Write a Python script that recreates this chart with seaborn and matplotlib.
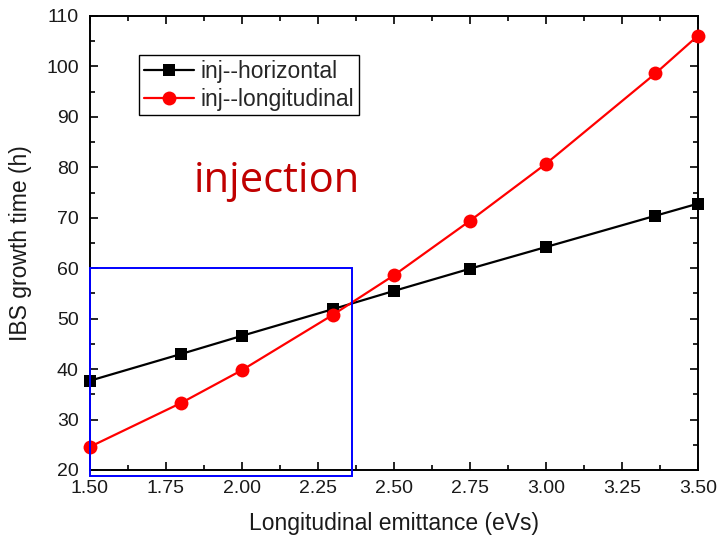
import matplotlib
matplotlib.use("Agg")
import matplotlib.pyplot as plt
from matplotlib.patches import Rectangle
from matplotlib.ticker import MultipleLocator, FormatStrFormatter
import seaborn as sns
import pandas as pd

emittance = [1.5, 1.8, 2.0, 2.3, 2.5, 2.75, 3.0, 3.36, 3.5]
inj_horizontal = [37.7, 43.0, 46.6, 51.9, 55.5, 59.9, 64.2, 70.4, 72.8]
inj_longitudinal = [24.6, 33.3, 39.8, 50.8, 58.6, 69.4, 80.7, 98.6, 106.1]
series_names = ["inj--horizontal", "inj--longitudinal"]

sns.set_style("ticks")
plt.rcParams['font.family'] = ['Liberation Sans', 'DejaVu Sans']

fig = plt.figure(figsize=(7.18, 5.38), dpi=100)
ax = fig.add_axes([0.1253, 0.1264, 0.8468, 0.8439])

df_h = pd.DataFrame({"x": emittance, "y": inj_horizontal})
df_l = pd.DataFrame({"x": emittance, "y": inj_longitudinal})
sns.lineplot(data=df_h, x="x", y="y", ax=ax, color="black", marker="s",
             markersize=8, markeredgewidth=0, linewidth=1.6, label=series_names[0], clip_on=False, zorder=3)
sns.lineplot(data=df_l, x="x", y="y", ax=ax, color="#ff0000", marker="o",
             markersize=10, markeredgewidth=0, linewidth=1.6, label=series_names[1], clip_on=False, zorder=3)

ax.set_xlim(1.5, 3.5)
ax.set_ylim(20, 110)
ax.xaxis.set_major_locator(MultipleLocator(0.25))
ax.xaxis.set_minor_locator(MultipleLocator(0.125))
ax.yaxis.set_major_locator(MultipleLocator(10))
ax.yaxis.set_minor_locator(MultipleLocator(5))
ax.xaxis.set_major_formatter(FormatStrFormatter('%.2f'))
ax.yaxis.set_major_formatter(FormatStrFormatter('%d'))
ax.tick_params(which='both', direction='in', top=True, right=True, color='black', width=1.2)
ax.tick_params(which='major', length=6, labelsize=14, labelcolor='#1a1a1a')
ax.tick_params(axis='x', which='major', pad=7)
ax.tick_params(axis='y', which='major', pad=8)
ax.tick_params(which='minor', length=3.5)
for s in ax.spines.values():
    s.set_linewidth(1.4)
    s.set_color('black')

ax.set_xlabel("Longitudinal emittance (eVs)", fontsize=16.5, labelpad=11, color='#1a1a1a')
ax.set_ylabel("IBS growth time (h)", fontsize=16.5, labelpad=10, color='#1a1a1a')

leg = ax.legend(loc='upper left', bbox_to_anchor=(0.0806, 0.914), fontsize=16.5,
                frameon=True, fancybox=False, edgecolor='black', framealpha=1,
                borderpad=0.2, handlelength=2.2, handletextpad=0.3, labelspacing=0.22,
                borderaxespad=0)
leg.get_frame().set_linewidth(1.0)

ax.text(2.115, 77.2, "injection", fontsize=30, color='#c00000', family=['Open Sans', 'DejaVu Sans'],
        ha='center', va='center')

rect = Rectangle((1.5, 18.8), 0.863, 41.2, fill=False, edgecolor='#0000ff', linewidth=1.4,
                 clip_on=False, zorder=4)
ax.add_patch(rect)

fig.savefig("out.png", dpi=100)
